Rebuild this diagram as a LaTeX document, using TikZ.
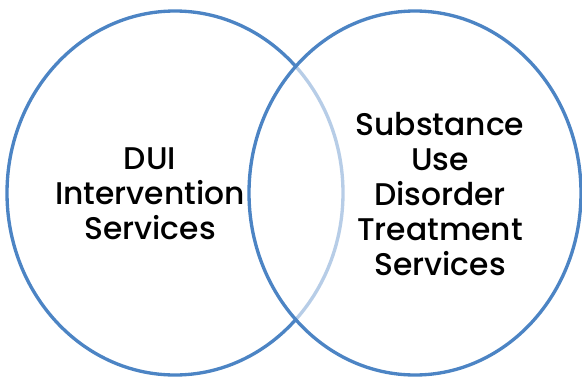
\documentclass[tikz,border=0pt]{standalone}
\usepackage{fontspec}
\setmainfont{Poppins Medium}
\usetikzlibrary{positioning}
\definecolor{vennblue}{RGB}{76,132,196}
\tikzset{every picture/.style={line width=0.75pt}}
\tikzset{
  venn/.style={draw=vennblue, line width=2.5pt},
  label text/.style={align=center, inner sep=0.75pt, font=\fontsize{23.5}{26.3}\selectfont}
}

\begin{document}
\begin{tikzpicture}[x=0.75pt,y=0.75pt,yscale=-1,xscale=1]
\useasboundingbox (0,0) rectangle (582,379);

%Shape: Ellipse [left set]
\draw [venn] (175,193) ellipse (126pt and 136.5pt);
%Shape: Ellipse [right set, half white fill lightens the overlap arc]
\draw [venn, fill=white, fill opacity=0.6] (415,193) ellipse (124.5pt and 136.5pt);

% Text Node
\node [label text] (dui) at (150,194) {DUI\\Intervention\\Services};
% Text Node
\node [label text] (sud) at (440,194) {Substance\\Use\\Disorder\\Treatment\\Services};

\end{tikzpicture}
\end{document}
